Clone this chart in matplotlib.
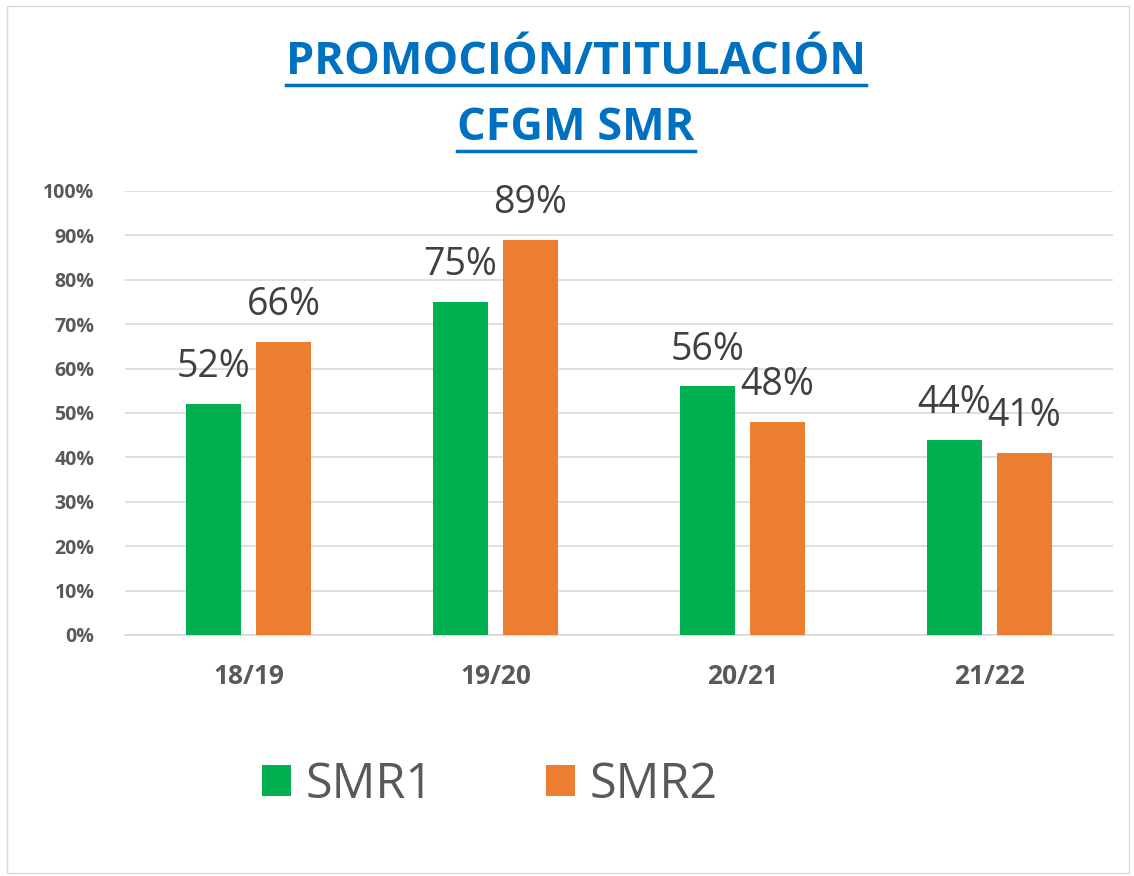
import matplotlib.pyplot as plt
from matplotlib.lines import Line2D
from matplotlib.patches import Rectangle
import numpy as np

years = ['18/19', '19/20', '20/21', '21/22']
smr1 = [0.52, 0.75, 0.56, 0.44]
smr2 = [0.66, 0.89, 0.48, 0.41]
yticks = [0, 0.1, 0.2, 0.3, 0.4, 0.5, 0.6, 0.7, 0.8, 0.9, 1.0]

green = '#00B050'
orange = '#ED7D31'
blue = '#0070C0'
gray = '#595959'
font = 'Open Sans'

dpi = 100
fig = plt.figure(figsize=(1134/dpi, 876/dpi), dpi=dpi)
ax = fig.add_axes([125/1134, 1 - 635/876, 988/1134, 444/876])

x = np.arange(len(years))
w = 0.222
off = 0.1414
ax.bar(x - off, smr1, w, color=green, label='SMR1', zorder=3)
ax.bar(x + off, smr2, w, color=orange, label='SMR2', zorder=3)

for xi, v in zip(x - off, smr1):
    ax.text(xi, v + 0.04, f'{v*100:.0f}%', ha='center', va='bottom',
            fontsize=27, color='#404040', family=font, zorder=4)
for xi, v in zip(x + off, smr2):
    ax.text(xi, v + 0.04, f'{v*100:.0f}%', ha='center', va='bottom',
            fontsize=27, color='#404040', family=font, zorder=4)

ax.set_xlim(-0.5, len(years) - 0.5)
ax.set_ylim(0, 1)
ax.set_yticks(yticks)
ax.set_yticklabels([f'{t*100:.0f}%' for t in yticks])
ax.set_xticks(x)
ax.set_xticklabels(years)
for lab in ax.get_yticklabels():
    lab.set_fontsize(14)
    lab.set_fontweight('bold')
    lab.set_color(gray)
    lab.set_family(font)
for lab in ax.get_xticklabels():
    lab.set_fontsize(19)
    lab.set_fontweight('bold')
    lab.set_color(gray)
    lab.set_family(font)
ax.tick_params(axis='y', length=0, pad=22)
ax.tick_params(axis='x', length=0, pad=20)
ax.grid(axis='y', color='#D9D9D9', linewidth=1.2, zorder=0)
for s in ['top', 'right', 'left']:
    ax.spines[s].set_visible(False)
ax.spines['bottom'].set_color('#D9D9D9')
ax.spines['bottom'].set_linewidth(1.2)

leg = fig.legend(loc='center', bbox_to_anchor=(490/1134, 1 - 785/876), ncol=2,
                 frameon=False, prop={'family': font, 'size': 35},
                 handlelength=0.6, handleheight=0.6, handletextpad=0.3,
                 columnspacing=2.3)
for t in leg.get_texts():
    t.set_color(gray)

t1 = fig.text(576/1134, 1 - 62/876, 'PROMOCIÓN/TITULACIÓN', ha='center', va='center',
              fontsize=32.5, fontweight='bold', color=blue, family=font)
t2 = fig.text(576/1134, 1 - 128/876, 'CFGM SMR', ha='center', va='center',
              fontsize=32.5, fontweight='bold', color=blue, family=font)

# underline the title lines
fig.canvas.draw()
r = fig.canvas.get_renderer()
for t in (t1, t2):
    bb = t.get_window_extent(r)
    yl = (bb.y0 + 0) / fig.bbox.height
    fig.add_artist(Line2D([bb.x0 / fig.bbox.width, bb.x1 / fig.bbox.width], [yl, yl],
                          color=blue, linewidth=2.5, transform=fig.transFigure))

fig.add_artist(Rectangle((0.006, 0.003), 0.99, 0.99, transform=fig.transFigure,
                         fill=False, edgecolor='#D9D9D9', linewidth=1))

plt.savefig('out.png', dpi=dpi)
